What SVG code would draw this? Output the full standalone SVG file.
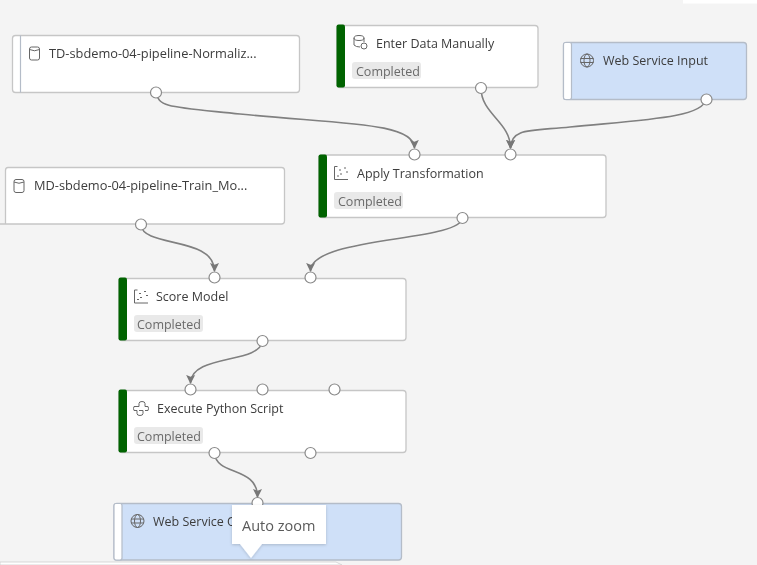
<svg xmlns="http://www.w3.org/2000/svg" width="757" height="565" viewBox="0 0 757 565">
<style>
.n{fill:#fff;stroke:#c6c6c6;stroke-width:1.3}
.b{fill:#cfe0f8;stroke:#b4bcc8;stroke-width:1.3}
.bar{fill:#046404}
.strip{fill:#fff;stroke:#b4bcc8;stroke-width:1.2}
.t{font-family:"Open Sans","Noto Sans","Liberation Sans",sans-serif;font-size:12.5px;fill:#3c3c3c}
.l{font-size:12.8px}
.s{font-family:"Open Sans","Noto Sans","Liberation Sans",sans-serif;font-size:12.5px;fill:#6a6a6a}
.tag{fill:#e9e9e9}
.p{fill:#fff;stroke:#8a8a8a;stroke-width:1.2}
.c{fill:none;stroke:#808080;stroke-width:1.6}
.i{fill:none;stroke:#666;stroke-width:1}
</style>
<defs>
<filter id="soft" x="0" y="0" width="100%" height="100%"><feGaussianBlur stdDeviation="0.35"/></filter>
<filter id="sh" x="-10%" y="-10%" width="120%" height="130%"><feDropShadow dx="0" dy="1" stdDeviation="1.500" flood-color="#000" flood-opacity=".18"/></filter>
<marker id="a" markerWidth="9" markerHeight="10" refX="8" refY="5" orient="auto" markerUnits="userSpaceOnUse" viewBox="0 0 9 10"><path d="M0 .5L1.800 5L0 9.500L9 5Z" fill="#777"/></marker>
<g id="db"><rect class="i" x="-4.500" y="-6.500" width="10" height="13" rx="2"/><path class="i" d="M-4.500-4 Q.5-1.500 5.500-4"/></g>
<g id="web"><circle class="i" cx="0" cy="0" r="6.500"/><ellipse class="i" cx="0" cy="0" rx="3" ry="6.500"/><path class="i" d="M-6.500-2H6.500M-6.500 2H6.500"/></g>
<g id="sc"><path class="i" d="M-3.500-6.500H-6.500V6.500H7M-2-3H0M3-5H5M-1 1H1M5-1H7M-4 3H-2"/></g>
<g id="py"><path class="i" d="M-2-2V-5Q-2-7 1-7Q4-7 4-5V-2H7Q8 0 7 2H4M2 2V5Q2 7-1 7Q-4 7-4 5V2H-7Q-8 0-7-2H-2M-2 2H2"/></g>
</defs>
<rect width="757" height="565" fill="#f4f4f4"/>
<g filter="url(#soft)">
<rect x="683" y="0" width="74" height="3.500" fill="#fff"/>
<g id="connectors">
<path class="c" d="M156 92C158 108 172 107 240 114C340 124 414 122 414.500 148" marker-end="url(#a)"/>
<path class="c" d="M481 88C481 114 510.500 122 510.500 148" marker-end="url(#a)"/>
<path class="c" d="M706 99C704 118 640 120 570 127C530 131 511 128 510.500 148" marker-end="url(#a)"/>
<path class="c" d="M141 225C143 248 214.500 236 214.500 271" marker-end="url(#a)"/>
<path class="c" d="M462.500 218C460 242 311 236 310.500 271" marker-end="url(#a)"/>
<path class="c" d="M262.500 341C260 364 191 354 190.500 383" marker-end="url(#a)"/>
<path class="c" d="M214.500 453C216 476 257.500 466 257.500 497" marker-end="url(#a)"/>
</g>
<g id="node-td">
<rect class="n" x="12.500" y="35.500" width="287" height="57" rx="3"/><path class="strip" d="M20.500 35.500V92.500"/>
<use href="#db" x="34" y="53.500"/>
<text class="t l" x="49" y="58">TD-sbdemo-04-pipeline-Normaliz...</text>
<circle class="p" cx="156" cy="92.500" r="5.500"/>
</g>
<g id="node-enter">
<rect class="n" x="337" y="25.500" width="201" height="62" rx="3"/><rect class="bar" x="336.500" y="24.500" width="8.500" height="63" rx="2"/>
<g transform="translate(360 42)"><ellipse class="i" cx="-1" cy="-4" rx="5" ry="2.500"/><path class="i" d="M-6-4V3Q-4 5 0 5M4-4V0"/><circle class="i" cx="4" cy="4" r="3"/></g>
<text class="t" x="376" y="48">Enter Data Manually</text>
<rect class="tag" x="352" y="62" width="69" height="17" rx="3"/><text class="s" x="356" y="76">Completed</text>
<circle class="p" cx="481" cy="88" r="5.500"/>
</g>
<g id="node-wsi">
<rect class="b" x="563.500" y="42.500" width="183" height="57" rx="3"/><rect class="strip" x="563.500" y="42.500" width="8" height="57" rx="2"/>
<use href="#web" x="587" y="60.500"/>
<text class="t" x="603" y="65">Web Service Input</text>
<circle class="p" cx="706.500" cy="99.500" r="5.500"/>
</g>
<g id="node-apply">
<rect class="n" x="319" y="155" width="287" height="62.500" rx="3"/><rect class="bar" x="318.500" y="154.500" width="8.500" height="63" rx="2"/>
<use href="#sc" x="341" y="173"/>
<text class="t" x="357" y="178">Apply Transformation</text>
<rect class="tag" x="334" y="192" width="69" height="17" rx="3"/><text class="s" x="338" y="206">Completed</text>
<circle class="p" cx="414.500" cy="154.500" r="5.500"/><circle class="p" cx="510.500" cy="154.500" r="5.500"/><circle class="p" cx="462.500" cy="218" r="5.500"/>
</g>
<g id="node-md">
<path class="n" d="M0 224H281.500Q284.500 224 284.500 221V170.500Q284.500 167.500 281.500 167.500H8Q5.500 167.500 5.500 170.500V224"/>
<use href="#db" x="18.500" y="186"/>
<text class="t l" x="34" y="190">MD-sbdemo-04-pipeline-Train_Mo...</text>
<circle class="p" cx="141" cy="224.500" r="5.500"/>
</g>
<g id="node-score">
<rect class="n" x="119" y="278.500" width="287" height="62" rx="3"/><rect class="bar" x="118.500" y="277.500" width="8.500" height="63" rx="2"/>
<use href="#sc" x="141" y="296.500"/>
<text class="t" x="156" y="301">Score Model</text>
<rect class="tag" x="134" y="315" width="69" height="17" rx="3"/><text class="s" x="137" y="329">Completed</text>
<circle class="p" cx="214.500" cy="277.500" r="5.500"/><circle class="p" cx="310.500" cy="277.500" r="5.500"/><circle class="p" cx="262.500" cy="341" r="5.500"/>
</g>
<g id="node-python">
<rect class="n" x="119" y="390.500" width="287" height="62" rx="3"/><rect class="bar" x="118.500" y="389.500" width="8.500" height="63" rx="2"/>
<use href="#py" x="141" y="408.500"/>
<text class="t" x="157" y="413">Execute Python Script</text>
<rect class="tag" x="134" y="427" width="69" height="17" rx="3"/><text class="s" x="137" y="441">Completed</text>
<circle class="p" cx="190.500" cy="389.500" r="5.500"/><circle class="p" cx="262.500" cy="389.500" r="5.500"/><circle class="p" cx="334.500" cy="389.500" r="5.500"/><circle class="p" cx="214.500" cy="453" r="5.500"/><circle class="p" cx="310.500" cy="453" r="5.500"/>
</g>
<g id="node-wso">
<rect class="b" x="114" y="503.500" width="287.500" height="56.500" rx="3"/><rect class="strip" x="114" y="503.500" width="8" height="56.500" rx="2"/>
<use href="#web" x="137.500" y="521"/>
<text class="t" x="153" y="526">Web Service O</text>
<circle class="p" cx="257.500" cy="503" r="5.500"/>
</g>
<path d="M0 562H336L342 565H0Z" fill="#fff" stroke="#cfcfcf" stroke-width=".8"/>
<g id="tooltip">
<path d="M232 505H326V544H262L251 558L240 544H232Z" fill="#fff" filter="url(#sh)"/>
<text x="242" y="531" font-family="'Open Sans','Noto Sans','Liberation Sans',sans-serif" font-size="14.500" fill="#5a5a5a">Auto zoom</text>
</g>
</g>
</svg>
